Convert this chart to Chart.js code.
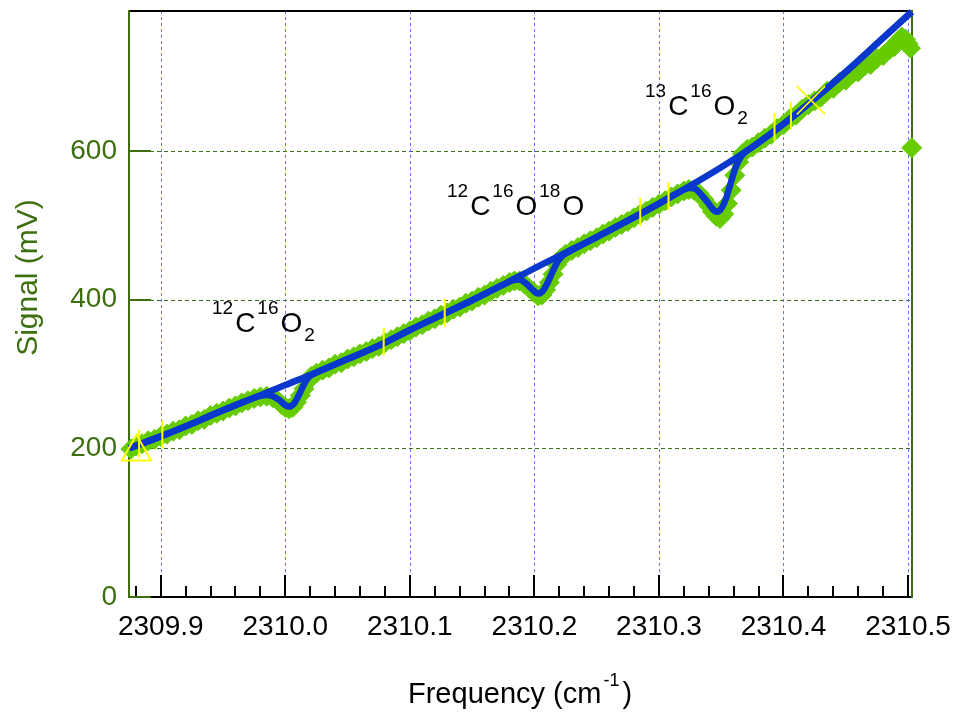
<!DOCTYPE html>
<html><head><meta charset="utf-8">
<script src="https://cdn.jsdelivr.net/npm/chart.js@4"></script>
<style>html,body{margin:0;padding:0;background:#fff;}canvas{display:block}</style>
</head><body>
<canvas id="c" width="959" height="721"></canvas>
<script>
// ---- tick values ----
const xMajorTicks = [2309.9, 2310.0, 2310.1, 2310.2, 2310.3, 2310.4, 2310.5];
const xMinorTicks = [2309.88, 2309.92, 2309.94, 2309.96, 2309.98, 2310.02, 2310.04, 2310.06, 2310.08,
  2310.12, 2310.14, 2310.16, 2310.18, 2310.22, 2310.24, 2310.26, 2310.28, 2310.32, 2310.34, 2310.36,
  2310.38, 2310.42, 2310.44, 2310.46, 2310.48];
const yTicks = [0, 200, 400, 600];

// ---- measured signal (green diamonds) ----
const dataX = [2309.876,2309.880,2309.885,2309.890,2309.895,2309.900,2309.905,2309.910,2309.915,2309.920,
  2309.925,2309.930,2309.935,2309.940,2309.945,2309.950,2309.955,2309.960,2309.965,2309.970,
  2309.975,2309.980,2309.985,2309.990,2309.994,2309.997,2310.000,2310.003,2310.006,2310.009,
  2310.012,2310.015,2310.018,2310.021,2310.025,2310.030,2310.035,2310.040,2310.045,2310.050,
  2310.055,2310.060,2310.065,2310.070,2310.075,2310.080,2310.085,2310.090,2310.095,2310.100,
  2310.105,2310.110,2310.115,2310.120,2310.125,2310.130,2310.135,2310.140,2310.145,2310.150,
  2310.155,2310.160,2310.165,2310.170,2310.175,2310.180,2310.184,2310.188,2310.192,2310.196,
  2310.200,2310.203,2310.206,2310.209,2310.212,2310.215,2310.218,2310.221,2310.225,2310.230,
  2310.235,2310.240,2310.245,2310.250,2310.255,2310.260,2310.265,2310.270,2310.275,2310.280,
  2310.285,2310.290,2310.295,2310.300,2310.305,2310.310,2310.315,2310.320,2310.324,2310.328,
  2310.332,2310.336,2310.340,2310.343,2310.346,2310.349,2310.352,2310.355,2310.358,2310.361,
  2310.364,2310.367,2310.371,2310.375,2310.380,2310.385,2310.390,2310.395,2310.400,2310.405,
  2310.410,2310.415,2310.420,2310.425,2310.430,2310.435,2310.440,2310.445,2310.450,2310.455,
  2310.460,2310.465,2310.470,2310.475,2310.480,2310.485,2310.489,2310.492,2310.495,2310.498,
  2310.500,2310.502,2310.503];
const dataY = [199,203,206,210,212,216,219,223,225,230,
  232,237,239,244,247,250,254,257,261,264,
  267,269,270,268,264,259,255,253,255,262,
  271,280,290,297,301,305,308,313,315,320,
  323,327,330,334,337,342,346,350,354,358,
  363,366,371,374,379,382,387,390,395,398,
  403,406,411,415,419,423,425,425,421,415,
  409,405,406,413,423,434,447,455,461,466,
  470,475,479,483,488,492,497,501,505,510,
  515,519,524,528,533,538,542,546,548,547,
  543,535,526,518,512,509,515,529,547,567,
  585,596,602,605,611,617,622,630,635,643,
  648,656,662,667,672,680,684,692,695,703,
  706,714,716,724,728,736,740,748,753,750,
  744,738,604];

// ---- fitted baseline (blue, no absorption) ----
const baseX = [2309.8745,2309.900,2309.925,2309.950,2309.975,2310.000,2310.025,2310.050,2310.075,2310.100,
  2310.125,2310.150,2310.175,2310.200,2310.225,2310.250,2310.275,2310.300,2310.325,2310.350,
  2310.375,2310.400,2310.425,2310.450,2310.475,2310.503];
const baseY = [200,216,233,251,268,285,302,320,338,359,
  379,399,420,442,463,484,506,529,553,578,
  605,636,670,706,744,787];

// ---- full fit (blue, with absorption lines) ----
const fitX = [2309.8745,2309.900,2309.925,2309.950,2309.975,2309.980,2309.985,2309.990,2309.995,2310.000,
  2310.003,2310.007,2310.011,2310.015,2310.019,2310.023,2310.030,2310.050,2310.075,2310.100,
  2310.125,2310.150,2310.175,2310.183,2310.188,2310.193,2310.198,2310.203,2310.207,2310.211,
  2310.215,2310.219,2310.223,2310.228,2310.250,2310.275,2310.300,2310.318,2310.324,2310.329,
  2310.334,2310.339,2310.343,2310.346,2310.349,2310.353,2310.357,2310.361,2310.365,2310.369,
  2310.375,2310.400,2310.425,2310.450,2310.475,2310.503];
const fitY = [200,216,233,251,268,270.5,271.5,270,265,258,
  256,260,272,286,296,300.5,305.5,320,338,359,
  379,399,420,426,427,422,414,408,412,424,
  439,452,459.5,464.5,484,506,529,546,550,549,
  541,531,522,518,520,532,553,575,590,598,
  605,636,670,706,744,787];

// ---- yellow cursor marks ----
const triangleX = [2309.8805];
const triangleY = [195];
const barMarkX = [2309.8826, 2309.9013, 2310.079, 2310.128, 2310.285, 2310.3077, 2310.3928, 2310.406];
const barMarkY = [206, 219, 343, 382, 518, 539, 632, 647];
const crossX = [2310.4221];
const crossY = [668];

// ---- annotation labels ----
const labels = [
  {x: 212, y: 331.5, parts: [['sup','12'],['n','C'],['sup','16'],['n','O'],['sub','2']]},
  {x: 447, y: 215, parts: [['sup','12'],['n','C'],['sup','16'],['n','O'],['sup','18'],['n','O']]},
  {x: 645, y: 115, parts: [['sup','13'],['n','C'],['sup','16'],['n','O'],['sub','2']]}
];

const FONT = "'Liberation Sans', Arial, sans-serif";
const AXIS_GREEN = '#3d6e10';
const pts = (xs, ys) => xs.map((v, i) => ({x: v, y: ys[i]}));

const framePlugin = {
  id: 'frame',
  beforeDatasetsDraw(chart) {
    const {ctx, chartArea: {left, right, top, bottom}, scales: {x, y}} = chart;
    ctx.save();
    ctx.lineWidth = 1;
    ctx.strokeStyle = AXIS_GREEN;
    ctx.setLineDash([4, 3]);
    yTicks.forEach(v => {
      if (v === 0) return;
      const py = Math.round(y.getPixelForValue(v)) + 0.5;
      ctx.beginPath(); ctx.moveTo(left, py); ctx.lineTo(right, py); ctx.stroke();
    });
    ctx.strokeStyle = '#6d6dff';
    ctx.setLineDash([3, 3]);
    xMajorTicks.forEach(v => {
      const px = Math.round(x.getPixelForValue(v)) + 0.5;
      ctx.beginPath(); ctx.moveTo(px, top); ctx.lineTo(px, bottom); ctx.stroke();
    });
    ctx.setLineDash([]);
    ctx.lineWidth = 2;
    ctx.strokeStyle = '#000';
    ctx.beginPath(); ctx.moveTo(left - 1, top); ctx.lineTo(right + 1, top); ctx.stroke();
    ctx.beginPath(); ctx.moveTo(left - 1, bottom); ctx.lineTo(right + 1, bottom); ctx.stroke();
    xMajorTicks.forEach(v => {
      const px = Math.round(x.getPixelForValue(v));
      ctx.beginPath(); ctx.moveTo(px, bottom); ctx.lineTo(px, bottom - 22); ctx.stroke();
    });
    xMinorTicks.forEach(v => {
      const px = Math.round(x.getPixelForValue(v));
      ctx.beginPath(); ctx.moveTo(px, bottom); ctx.lineTo(px, bottom - 11); ctx.stroke();
    });
    ctx.strokeStyle = AXIS_GREEN;
    ctx.beginPath(); ctx.moveTo(left, top - 1); ctx.lineTo(left, bottom + 1); ctx.stroke();
    ctx.beginPath(); ctx.moveTo(right, top - 1); ctx.lineTo(right, bottom + 1); ctx.stroke();
    yTicks.forEach(v => {
      const py = Math.round(y.getPixelForValue(v));
      ctx.beginPath(); ctx.moveTo(left, py); ctx.lineTo(left + 22, py); ctx.stroke();
    });
    ctx.restore();
  },
  afterDraw(chart) {
    const {ctx} = chart;
    ctx.save();
    ctx.fillStyle = '#000';
    ctx.textBaseline = 'alphabetic';
    ctx.textAlign = 'left';
    labels.forEach(l => {
      let cx = l.x;
      l.parts.forEach(([kind, txt]) => {
        let dy = 0;
        if (kind === 'n') ctx.font = '28px ' + FONT;
        else { ctx.font = '19px ' + FONT; dy = kind === 'sup' ? -18 : 9; }
        ctx.fillText(txt, cx, l.y + dy);
        cx += ctx.measureText(txt).width + 2;
      });
    });
    let tx = 408;
    ctx.font = '29px ' + FONT;
    ctx.fillText('Frequency (cm', tx, 703);
    tx += ctx.measureText('Frequency (cm').width + 2;
    ctx.font = '18px ' + FONT;
    ctx.fillText('-1', tx, 686);
    tx += ctx.measureText('-1').width + 3;
    ctx.font = '29px ' + FONT;
    ctx.fillText(')', tx, 703);
    ctx.fillStyle = AXIS_GREEN;
    ctx.translate(37, 277.5);
    ctx.rotate(-Math.PI / 2);
    ctx.textAlign = 'center';
    ctx.font = '30px ' + FONT;
    ctx.fillText('Signal (mV)', 0, 0);
    ctx.restore();
  }
};

new Chart(document.getElementById('c'), {
  type: 'scatter',
  data: {
    datasets: [
      {data: pts(triangleX, triangleY), pointStyle: 'triangle', pointRadius: 17, borderColor: '#ffff00',
        backgroundColor: 'rgba(0,0,0,0)', borderWidth: 2, clip: false, order: 0},
      {data: pts(barMarkX, barMarkY), pointStyle: 'line', pointRotation: 90, pointRadius: 14,
        borderColor: '#ffff00', backgroundColor: '#ffff00', borderWidth: 2, clip: false, order: 0},
      {data: pts(crossX, crossY), pointStyle: 'crossRot', pointRadius: 20, borderColor: '#ffff00',
        backgroundColor: '#ffff00', borderWidth: 1.5, clip: false, order: 0},
      {data: pts(fitX, fitY), showLine: true, pointRadius: 0, borderColor: '#0a37cc', borderWidth: 6.5,
        cubicInterpolationMode: 'monotone', fill: false, clip: false, order: 1},
      {data: pts(baseX, baseY), showLine: true, pointRadius: 0, borderColor: '#0a37cc', borderWidth: 6.5,
        cubicInterpolationMode: 'monotone', fill: false, clip: false, order: 2},
      {data: pts(dataX, dataY), showLine: false, pointStyle: 'rectRot', pointRadius: 10,
        backgroundColor: '#66cc00', borderColor: '#66cc00', borderWidth: 1, clip: false, order: 3}
    ]
  },
  options: {
    responsive: false,
    animation: false,
    devicePixelRatio: 1,
    events: [],
    layout: {autoPadding: false, padding: {left: 0, right: 47, top: 11, bottom: 0}},
    plugins: {legend: {display: false}, tooltip: {enabled: false}},
    scales: {
      x: {
        type: 'linear', min: 2309.8745, max: 2310.5032,
        grid: {display: false, drawTicks: false}, border: {display: false},
        afterBuildTicks: s => { s.ticks = xMajorTicks.map(v => ({value: v})); },
        afterFit: s => { s.height = 124; s.paddingLeft = 0; s.paddingRight = 0; },
        ticks: {autoSkip: false, maxRotation: 0, padding: 13, color: '#000',
          font: {family: FONT, size: 28}, callback: v => Number(v).toFixed(1)}
      },
      y: {
        type: 'linear', min: 0, max: 788,
        grid: {display: false, drawTicks: false}, border: {display: false},
        afterBuildTicks: s => { s.ticks = yTicks.map(v => ({value: v})); },
        afterFit: s => { s.width = 129; s.paddingTop = 0; s.paddingBottom = 0; },
        ticks: {padding: 12, color: AXIS_GREEN, font: {family: FONT, size: 28}, callback: v => String(v)}
      }
    }
  },
  plugins: [framePlugin]
});
</script>
</body></html>
